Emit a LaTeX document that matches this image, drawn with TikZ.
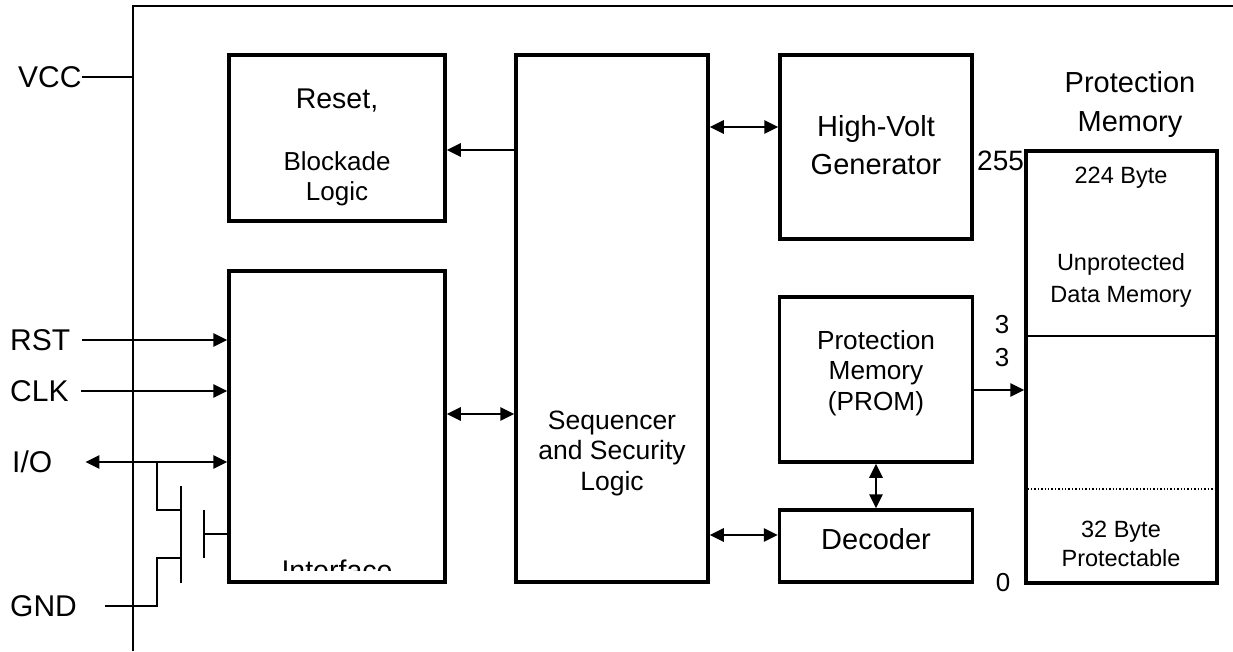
\documentclass[tikz,border=0pt]{standalone}
\usepackage{fontspec}
\setmainfont{Liberation Sans}
\usetikzlibrary{arrows.meta}

\newcommand{\fs}[2]{\fontsize{#1}{#2}\selectfont}

\begin{document}
\begin{tikzpicture}[x=1pt,y=-1pt,
  block/.style={draw,line width=3.5pt,inner sep=0pt},
  txt/.style={inner sep=0pt,align=center},
  pin/.style={txt,anchor=west,font=\fs{30}{36}},
  wire/.style={line width=1.7pt},
  arr/.style={line width=2.7pt,-{Triangle[length=14pt,width=13pt]}},
  dbl/.style={line width=2.7pt,{Triangle[length=14pt,width=13pt]}-{Triangle[length=14pt,width=13pt]}}]
\useasboundingbox (0,0) rectangle (1233,651);

% chip outline
\coordinate (chipbl) at (133,651);
\coordinate (chiptl) at (133,6);
\coordinate (chiptr) at (1233,6);
\draw[wire] (chipbl) -- (chiptl) -- (chiptr);

% blocks
\node[block,minimum width=216pt,minimum height=166pt] (reset) at (337,138) {};
\node[block,minimum width=216pt,minimum height=311pt] (iface) at (337,426.5) {};
\node[block,minimum width=192pt,minimum height=527pt] (seq) at (612,318.5) {};
\node[block,minimum width=192pt,minimum height=184pt] (hv) at (876,147) {};
\node[block,minimum width=193pt,minimum height=165pt] (prom) at (876,379.5) {};
\node[block,minimum width=193pt,minimum height=72pt] (dec) at (876,546) {};

\node[txt,font=\fs{28.5}{34}] (resettxt) at (337,101) {Reset,};
\node[txt,font=\fs{26}{30}] (blocktxt) at (337,179) {Blockade\\Logic};
\node[txt,font=\fs{29}{38}] (hvtxt) at (876,145) {High-Volt\\Generator};
\node[txt,font=\fs{26.5}{30.5}] (seqtxt) at (612,453) {Sequencer\\and Security\\Logic};
\node[txt,font=\fs{26.2}{30.5}] (promtxt) at (876,373) {Protection\\Memory\\(PROM)};
\node[txt,font=\fs{29}{30}] (dectxt) at (876,539) {Decoder};
\begin{scope}
  \clip (229,271) rectangle (445,570);
  \node[txt,anchor=base,font=\fs{28.5}{30}] (ifacetxt) at (337,580.5) {Interface};
\end{scope}

% protection memory
\node[txt,font=\fs{29}{39}] (memhead) at (1130,104) {Protection\\Memory};
\node[txt,anchor=west,font=\fs{28}{30}] (addrtop) at (977,161) {255};
\node[txt,font=\fs{26}{28}] (addrmida) at (1002,325) {3};
\node[txt,font=\fs{26}{28}] (addrmidb) at (1002,358) {3};
\node[txt,font=\fs{26}{28}] (addrbot) at (1003,583) {0};
\node[block,minimum width=191pt,minimum height=432pt] (mem) at (1121.5,367) {};
\coordinate (memsplit) at (1121.5,336);
\coordinate (memprot) at (1121.5,489);
\draw[wire] (memsplit -| mem.west) -- (memsplit -| mem.east);
\draw[line width=1.4pt,dash pattern=on 1.4pt off 2pt] (memprot -| mem.west) -- (memprot -| mem.east);
\node[txt,font=\fs{23.5}{28}] (freetxt) at (1121,178) {224 Byte};
\node[txt,font=\fs{23.5}{32}] (unprottxt) at (1121,280) {Unprotected\\Data Memory};
\node[txt,font=\fs{23.5}{29}] (prottxt) at (1121,544) {32 Byte\\Protectable};

% pins
\node[pin] (vcc) at (18,77) {VCC};
\node[pin] (rst) at (10,340) {RST};
\node[pin] (clk) at (10,391) {CLK};
\node[pin] (io) at (12,462) {I/O};
\node[pin] (gnd) at (10,606) {GND};
\draw[wire] (vcc.east) -- (vcc.east -| chiptl);
\draw[arr] ([xshift=12pt]rst.east) -- (rst.east -| iface.west);
\draw[arr] ([xshift=12pt]clk.east) -- (clk.east -| iface.west);
\draw[dbl] ([xshift=33pt]io.east) -- (io.east -| iface.west);

% output transistor
\coordinate (drain) at (157,462);
\coordinate (gate) at (204,534);
\draw[wire] (drain) |- (181,510);
\draw[wire] (181,486) -- (181,583);
\draw[wire] ([xshift=28pt]gnd.east) -| (157,558) -- (181,558);
\draw[wire] (204,510) -- (204,558);
\draw[wire] (gate) -- (gate -| iface.west);

% internal connections
\draw[arr] ([yshift=-12pt]reset.east -| seq.west) -- ([yshift=-12pt]reset.east);
\draw[dbl] ([yshift=20pt]hv.west -| seq.east) -- ([yshift=20pt]hv.west);
\draw[dbl] ([yshift=12.5pt]iface.east) -- ([yshift=12.5pt]iface.east -| seq.west);
\draw[dbl] ([yshift=11pt]dec.west -| seq.east) -- ([yshift=11pt]dec.west);
\draw[dbl] (prom.south) -- (dec.north);
\draw[arr] ([yshift=-10.5pt]prom.east) -- ([yshift=-10.5pt]prom.east -| mem.west);
\end{tikzpicture}
\end{document}
